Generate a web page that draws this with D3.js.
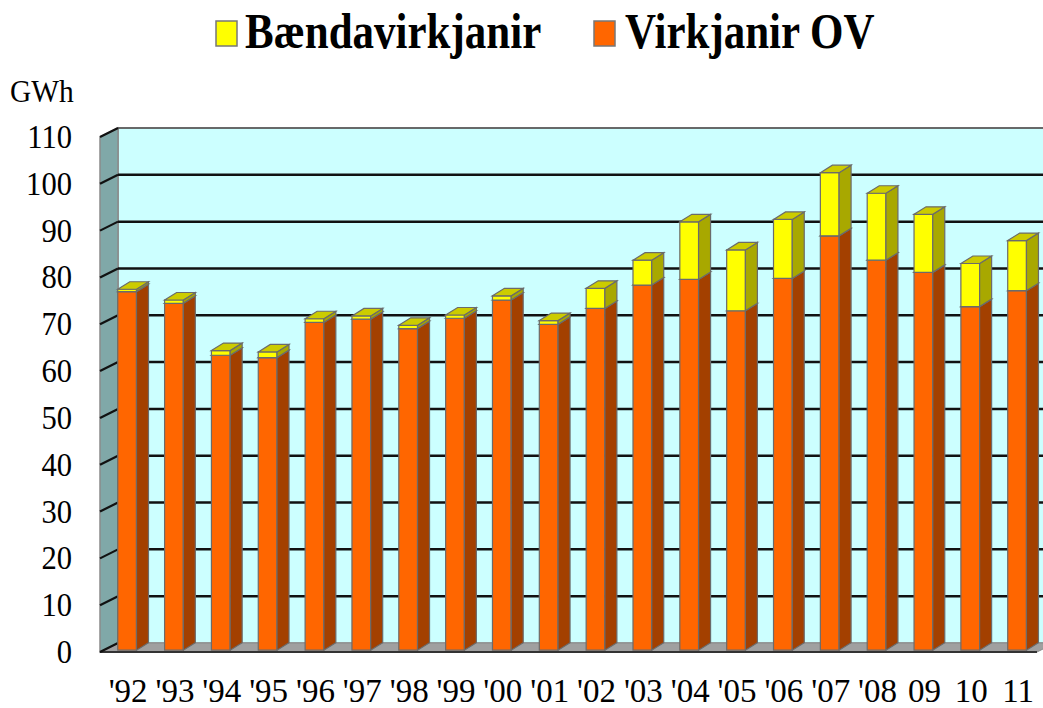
<!DOCTYPE html>
<html>
<head>
<meta charset="utf-8">
<script src="https://cdn.jsdelivr.net/npm/d3@7"></script>
<style>
  html, body { margin: 0; padding: 0; background: #fff; }
  svg { display: block; }
</style>
</head>
<body>
<svg id="chart" width="1043" height="708"></svg>
<script>
// ---- data ----
const years = ["'92","'93","'94","'95","'96","'97","'98","'99","'00","'01","'02","'03","'04","'05","'06","'07","'08","09","10","11"];
const virkjanirOV = [76.6, 74.1, 63.0, 62.5, 70.0, 70.7, 68.7, 70.9, 74.8, 69.6, 73.0, 78.0, 79.2, 72.5, 79.4, 88.5, 83.3, 80.7, 73.4, 76.8];
const baendavirkjanir = [0.5, 0.7, 1.0, 1.2, 0.8, 0.7, 0.7, 0.7, 0.9, 0.8, 4.3, 5.3, 12.3, 13.0, 12.6, 13.5, 14.3, 12.4, 9.2, 10.7];
const yTicks = [0, 10, 20, 30, 40, 50, 60, 70, 80, 90, 100, 110];
const seriesNames = ["Bændavirkjanir", "Virkjanir OV"];
const unitLabel = "GWh";

// ---- layout ----
const svg = d3.select("#chart");
const X0 = 100, X1 = 1037;      // front plane x extent
const DX = 18, DY = -9;         // wall depth offset
const BOFF = 0.2;               // bar front depth fraction
const BDX = 12, BDY = -7.5;     // bar depth
const serif = "'Liberation Serif', 'Times New Roman', serif";

const x = d3.scaleBand().domain(years).range([X0, X1]).paddingInner(0.6).paddingOuter(0.302);
const y = d3.scaleLinear().domain([0, 110]).range([652, 137]);

const poly = pts => "M" + pts.map(p => p.join(",")).join("L") + "Z";

// back wall
svg.append("path")
  .attr("d", poly([[X0+DX, y(110)+DY],[X1+DX+40, y(110)+DY],[X1+DX+40, y(0)+DY],[X0+DX, y(0)+DY]]))
  .attr("fill", "#ccffff").attr("stroke", "#8a8a8a").attr("stroke-width", 1.5);
// left wall
svg.append("path")
  .attr("d", poly([[X0, y(0)],[X0, y(110)],[X0+DX, y(110)+DY],[X0+DX, y(0)+DY]]))
  .attr("fill", "#80a8a8").attr("stroke", "#8a8a8a").attr("stroke-width", 1.5);
// floor
svg.append("path")
  .attr("d", poly([[X0, y(0)],[X1, y(0)],[X1+DX, y(0)+DY],[X0+DX, y(0)+DY]]))
  .attr("fill", "#a0a0a0").attr("stroke", "#8a8a8a").attr("stroke-width", 1);
svg.append("line")
  .attr("x1", X0).attr("x2", X1).attr("y1", y(0)).attr("y2", y(0))
  .attr("stroke", "#333").attr("stroke-width", 2);

// gridlines on back wall
svg.append("g").selectAll("line").data(yTicks.filter(v => v > 0 && v < 110)).join("line")
  .attr("x1", X0+DX).attr("x2", 1043)
  .attr("y1", d => y(d)+DY).attr("y2", d => y(d)+DY)
  .attr("stroke", "#111").attr("stroke-width", 2.5);
svg.append("line")
  .attr("x1", X0+DX).attr("x2", 1043).attr("y1", y(110)+DY).attr("y2", y(110)+DY)
  .attr("stroke", "#555").attr("stroke-width", 1.5);
// ticks on left wall
svg.append("g").selectAll("line").data(yTicks).join("line")
  .attr("x1", X0).attr("x2", X0+DX)
  .attr("y1", d => y(d)).attr("y2", d => y(d)+DY)
  .attr("stroke", "#111").attr("stroke-width", 2.2);

// bars
function box(g, x0, w, yt, yb, cFront, cSide, cTop) {
  const st = "#6b6b6b";
  g.append("path").attr("d", poly([[x0, yb],[x0, yt],[x0+w, yt],[x0+w, yb]]))
    .attr("fill", cFront).attr("stroke", st).attr("stroke-width", 1.2);
  g.append("path").attr("d", poly([[x0+w, yb],[x0+w, yt],[x0+w+BDX, yt+BDY],[x0+w+BDX, yb+BDY]]))
    .attr("fill", cSide).attr("stroke", st).attr("stroke-width", 1.2);
  g.append("path").attr("d", poly([[x0, yt],[x0+BDX, yt+BDY],[x0+w+BDX, yt+BDY],[x0+w, yt]]))
    .attr("fill", cTop).attr("stroke", st).attr("stroke-width", 1.2);
}
const bars = svg.append("g");
years.forEach((yr, i) => {
  const g = bars.append("g");
  const bx = x(yr) + BOFF*DX, w = x.bandwidth();
  const oy = BOFF*DY;
  const v1 = virkjanirOV[i], v2 = v1 + baendavirkjanir[i];
  box(g, bx, w, y(v1)+oy, y(0)+oy, "#ff6600", "#a34000", "#cc5200");
  box(g, bx, w, y(v2)+oy, y(v1)+oy, "#ffff00", "#a8a800", "#cccc00");
});

// text helper (horizontally condensed serif)
function txt(str, tx, ty, size, opts = {}) {
  return svg.append("text")
    .attr("transform", `translate(${tx},${ty}) scale(${opts.sx || 1},1)`)
    .attr("font-family", serif).attr("font-size", size)
    .attr("font-weight", opts.bold ? "bold" : "normal")
    .attr("text-anchor", opts.anchor || "start")
    .attr("fill", "#000").text(str);
}

// y tick labels
yTicks.forEach(v => txt(String(v), 72, y(v) + 11, 34, {sx: 0.9, anchor: "end"}));
// unit
txt(unitLabel, 10, 102, 32, {sx: 0.92});
// x labels
years.forEach(yr => txt(yr, x(yr) + BOFF*DX + x.bandwidth()/2 + 1, 702, 33, {anchor: "middle"}));

// legend
const legendItems = [
  {name: seriesNames[0], color: "#ffff00", sx: 216, tx: 245},
  {name: seriesNames[1], color: "#ff6600", sx: 594, tx: 625}
];
legendItems.forEach(it => {
  svg.append("rect").attr("x", it.sx).attr("y", 21).attr("width", 21).attr("height", 25)
    .attr("fill", it.color).attr("stroke", "#777").attr("stroke-width", 1.5);
  txt(it.name, it.tx, 48, 50, {sx: 0.86, bold: true});
});
</script>
</body>
</html>
